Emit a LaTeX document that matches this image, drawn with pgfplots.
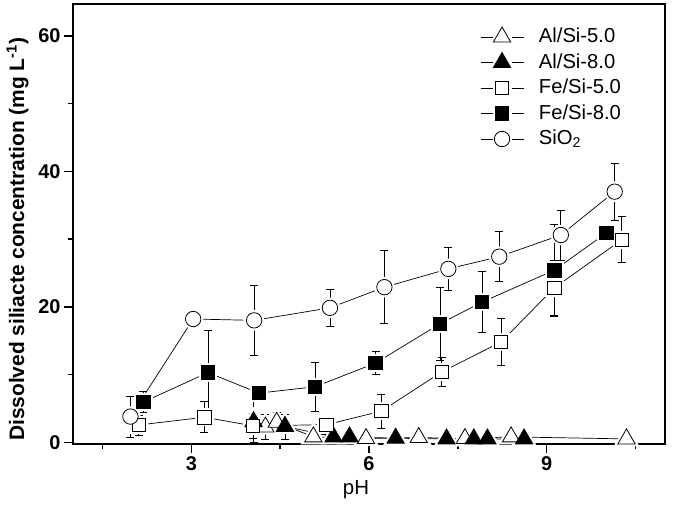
\documentclass[border=0pt]{standalone}
\usepackage{fontspec}
\setmainfont{Liberation Sans}
\usepackage{pgfplots}
\usepackage{pgfplotstable}
\pgfplotsset{compat=1.18}

\pgfplotstableread{
x y e
4.25 2.25 1.85
4.44 2.95 1.4
5.06 0.8 0.3
5.95 0.55 0.3
6.84 0.7 0.3
7.62 0.55 0.3
8.40 0.8 0.4
10.35 0.5 0.3
}\alfive
\pgfplotstableread{
x y e
4.05 3.05 3.1
4.58 2.35 1.85
5.40 0.8 0.3
5.67 0.8 0.3
6.45 0.6 0.3
7.31 0.5 0.3
7.77 0.5 0.3
8.00 0.5 0.3
8.62 0.5 0.3
}\aleight
\pgfplotstableread{
x y e
2.11 2.55 1.5
3.22 3.7 2.3
4.04 2.43 1.8
5.28 2.6 1.4
6.21 4.6 2.5
7.23 10.4 2.1
8.23 14.8 3.5
9.13 22.8 4.1
10.27 29.9 3.4
}\fefive
\pgfplotstableread{
x y e
2.19 5.95 1.6
3.28 10.3 6.3
4.14 7.26 0.5
5.09 8.2 3.6
6.11 11.7 1.7
7.20 17.5 5.4
7.91 20.7 4.5
9.13 25.4 6.8
10.01 30.9 0
}\feeight
\pgfplotstableread{
x y e
1.97 3.8 3.0
3.03 18.2 0
4.06 18.0 5.1
5.34 19.85 2.7
6.26 22.9 5.4
7.34 25.6 3.2
8.20 27.4 3.7
9.24 30.6 3.7
10.15 37.0 4.2
}\sio

\begin{document}
\begin{tikzpicture}
\useasboundingbox (0,0) rectangle (675bp,519bp);
\begin{axis}[
  at={(73bp,75bp)}, anchor=south west,
  scale only axis, width=592bp, height=440bp,
  xmin=1, xmax=11, ymin=-0.25, ymax=64.7,
  xtick={3,6,9}, minor xtick={1.5,4.5,7.5,10.5},
  ytick={0,20,40,60}, minor ytick={10,30,50},
  tick pos=left, tick align=outside,
  major tick length=9bp, minor tick length=5bp,
  every tick/.style={line width=1.6bp, black},
  every minor tick/.style={line width=1.6bp, black},
  axis line style={line width=1.8bp},
  /pgf/number format/assume math mode=true,
  tick label style={font=\bfseries\fontsize{20}{20}\selectfont},
  xlabel={pH},
  ylabel={\bfseries Dissolved siliacte concentration (mg L\textsuperscript{-1})},
  xlabel style={font=\fontsize{20.5}{20.5}\selectfont, at={(axis description cs:0.478,-0.1045)}, anchor=center},
  ylabel style={font=\fontsize{21}{21}\selectfont, at={(axis description cs:-0.0937,0.465)}, anchor=center},
  legend style={at={(axis description cs:0.6875,0.9493)}, anchor=north west, draw=none, fill=none,
    inner sep=0pt, column sep=15bp,
    font=\fontsize{20.3}{20.3}\selectfont, row sep=4.5bp,
    nodes={text height=16bp, text depth=5bp, inner ysep=0pt, inner xsep=0pt}},
  legend cell align=left,
  legend image code/.code={%
    \draw (0bp,0bp) -- (12bp,0bp);
    \draw (31bp,0bp) -- (43bp,0bp);
    \draw plot coordinates {(21.5bp,0bp)};},
  every axis plot/.append style={black, line width=0.7bp},
  myerr/.style={error bars/.cd, y dir=both, y explicit,
     error bar style={black, line width=0.7bp, solid},
     error mark options={black, rotate=90, mark size=4bp, line width=0.7bp}},
  halo/.style={forget plot, only marks, mark options={draw=white, fill=white, line width=5bp, solid}},
  sym/.style={forget plot, only marks},
  openm/.style={mark options={fill=white, draw=black, solid, line width=0.8bp}},
  fullm/.style={mark options={fill=black, draw=black, solid, line width=0.8bp}},
]
% connecting lines
\addplot[forget plot, mark=none] table[x=x, y=y] {\alfive};
\addplot[forget plot, mark=none] table[x=x, y=y] {\aleight};
\addplot[forget plot, mark=none] table[x=x, y=y] {\fefive};
\addplot[forget plot, mark=none] table[x=x, y=y] {\feeight};
\addplot[forget plot, mark=none] table[x=x, y=y] {\sio};
% white gaps round the symbols
\addplot[halo, mark=triangle*, mark size=10bp] table[x=x, y=y] {\alfive};
\addplot[halo, mark=triangle*, mark size=10bp] table[x=x, y=y] {\aleight};
\addplot[halo, mark=square*, mark size=6.7bp] table[x=x, y=y] {\fefive};
\addplot[halo, mark=square*, mark size=6.7bp] table[x=x, y=y] {\feeight};
\addplot[halo, mark=*, mark size=7.7bp] table[x=x, y=y] {\sio};
% error bars
\addplot[forget plot, only marks, mark=none, myerr] table[x=x, y=y, y error=e] {\alfive};
\addplot[forget plot, only marks, mark=none, myerr] table[x=x, y=y, y error=e] {\aleight};
\addplot[forget plot, only marks, mark=none, myerr] table[x=x, y=y, y error=e] {\fefive};
\addplot[forget plot, only marks, mark=none, myerr] table[x=x, y=y, y error=e] {\feeight};
\addplot[forget plot, only marks, mark=none, myerr] table[x=x, y=y, y error=e] {\sio};
% symbols
\addplot[sym, mark=triangle*, mark size=10bp, openm] table[x=x, y=y] {\alfive};
\addplot[sym, mark=triangle*, mark size=10bp, fullm] table[x=x, y=y] {\aleight};
\addplot[sym, mark=square*, mark size=6.7bp, openm] table[x=x, y=y] {\fefive};
\addplot[sym, mark=square*, mark size=6.7bp, fullm] table[x=x, y=y] {\feeight};
\addplot[sym, mark=*, mark size=7.7bp, openm] table[x=x, y=y] {\sio};
% legend
\addlegendimage{black, line width=0.7bp, mark=triangle*, mark size=10bp, openm}
\addlegendentry{Al/Si-5.0}
\addlegendimage{black, line width=0.7bp, mark=triangle*, mark size=10bp, fullm}
\addlegendentry{Al/Si-8.0}
\addlegendimage{black, line width=0.7bp, mark=square*, mark size=6.7bp, openm}
\addlegendentry{Fe/Si-5.0}
\addlegendimage{black, line width=0.7bp, mark=square*, mark size=6.7bp, fullm}
\addlegendentry{Fe/Si-8.0}
\addlegendimage{black, line width=0.7bp, mark=*, mark size=7.7bp, openm}
\addlegendentry{SiO\textsubscript{2}}
\end{axis}
\end{tikzpicture}
\end{document}
